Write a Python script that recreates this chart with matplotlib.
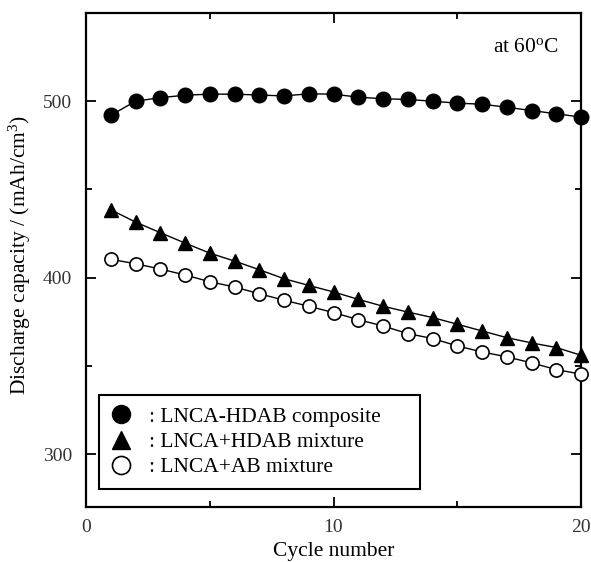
import matplotlib
matplotlib.use("Agg")
import matplotlib.pyplot as plt
from matplotlib.ticker import MultipleLocator
from matplotlib.lines import Line2D

plt.rcParams['font.family'] = ['Liberation Serif', 'DejaVu Serif']
plt.rcParams['mathtext.fontset'] = 'custom'
plt.rcParams['mathtext.rm'] = 'Liberation Serif'
plt.rcParams['mathtext.it'] = 'Liberation Serif:italic'

cycles = list(range(1, 21))
composite = [492, 500, 502, 503.4, 504, 504, 503.5, 503, 504.2, 504, 502.3, 501.4,
             501, 500, 498.9, 498.3, 496.6, 494.7, 492.9, 491]
hdab_mix = [438.5, 431.5, 425.5, 419.6, 413.9, 409.4, 404.5, 399.4, 395.6, 391.9,
            387.7, 383.8, 380.5, 377.4, 373.6, 369.8, 366, 363, 360.4, 356]
ab_mix = [410.4, 407.9, 404.9, 401.5, 397.7, 394.7, 390.9, 387.2, 383.8, 380.2,
          376.2, 372.6, 368.3, 365.5, 361.3, 357.9, 355.1, 351.7, 347.9, 345.3]
labels = [': LNCA-HDAB composite', ': LNCA+HDAB mixture', ': LNCA+AB mixture']

fig = plt.figure(figsize=(5.91, 5.62), dpi=100)
ax = fig.add_axes([86/591, 55/562, 495/591, 494/562])

ax.plot(cycles, composite, '-', color='black', lw=1.0, marker='o', ms=10.5,
        mfc='black', mec='black', zorder=3, clip_on=False)
ax.plot(cycles, hdab_mix, '-', color='black', lw=1.0, marker='^', ms=10.5,
        mfc='black', mec='black', zorder=3, clip_on=False)
ax.plot(cycles, ab_mix, '-', color='black', lw=1.0, marker='o', ms=9.5,
        mfc='white', mec='black', mew=1.2, zorder=3, clip_on=False)

ax.set_xlim(0, 20)
ax.set_ylim(270, 550)
ax.xaxis.set_major_locator(MultipleLocator(10))
ax.xaxis.set_minor_locator(MultipleLocator(5))
ax.yaxis.set_major_locator(MultipleLocator(100))
ax.yaxis.set_minor_locator(MultipleLocator(50))
ax.tick_params(which='both', direction='in', top=True, right=True, width=1.3,
               labelsize=14, labelcolor='#333333')
ax.tick_params(axis='x', pad=9)
ax.tick_params(axis='y', pad=10)
ax.tick_params(which='major', length=7)
ax.tick_params(which='minor', length=4)
for s in ax.spines.values():
    s.set_linewidth(1.6)

ax.set_xlabel('Cycle number', fontsize=15.5, labelpad=4)
ax.set_ylabel('Discharge capacity / (mAh/cm$^3$)', fontsize=15.5)
ax.yaxis.set_label_coords(-0.134, 0.51)
ax.yaxis.label.set_verticalalignment('center')

ax.text(0.955, 0.93, 'at 60$^{\\rm o}$C', transform=ax.transAxes, ha='right',
        va='center', fontsize=15.5)

handles = [
    Line2D([], [], ls='none', marker='o', ms=13, mfc='black', mec='black'),
    Line2D([], [], ls='none', marker='^', ms=13, mfc='black', mec='black'),
    Line2D([], [], ls='none', marker='o', ms=13, mfc='white', mec='black', mew=1.2),
]
leg = ax.legend(handles, labels, loc='lower left',
                bbox_to_anchor=(0.026, 0.036, 0.649, 0.191), mode='expand',
                fontsize=15.5, frameon=True, fancybox=False, edgecolor='black',
                framealpha=1, handlelength=1.0, handletextpad=0.8,
                labelspacing=0.24, borderpad=0.55, borderaxespad=0)
leg.get_frame().set_linewidth(1.5)

fig.savefig('out.png', dpi=100)
